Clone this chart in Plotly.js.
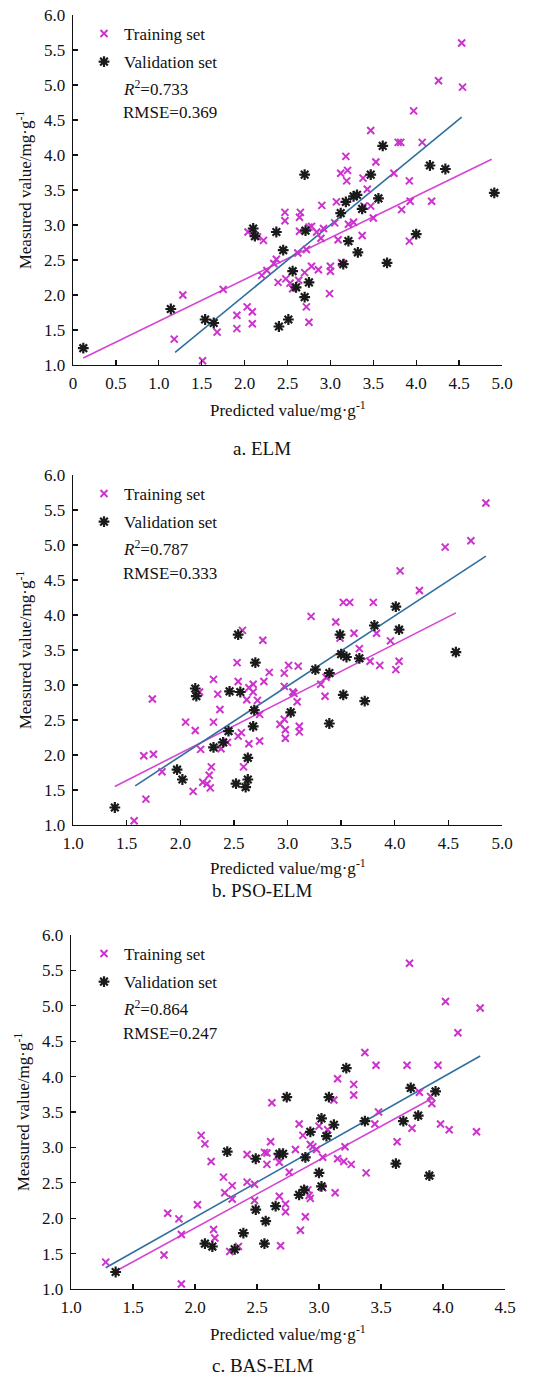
<!DOCTYPE html>
<html>
<head>
<meta charset="utf-8">
<script src="https://cdn.plot.ly/plotly-3.0.1.min.js"></script>
<style>html,body{margin:0;padding:0;background:#fff;}#chart{width:543px;height:1376px;}</style>
</head>
<body>
<div id="chart"></div>
<script>
// ---------- Panel a: ELM ----------
const elmTrainX = [1.28,1.18,1.75,1.68,1.91,1.91,2.03,2.09,2.09,1.51,2.04,2.15,2.22,2.26,2.20,2.34,2.37,2.39,2.47,2.47,2.48,2.53,2.56,2.65,2.64,2.64,2.62,2.63,2.70,2.72,2.72,2.75,2.75,2.78,2.84,2.86,2.78,2.90,2.89,2.92,3.00,3.00,2.99,3.05,3.09,3.13,3.21,3.27,3.37,3.39,3.47,3.50,3.83,3.92,3.93,4.18,3.07,
  4.53,4.26,4.54,3.97,3.47,3.79,3.82,4.07,3.18,3.53,3.12,3.20,3.19,3.38,3.74,3.92,3.43];
const elmTrainY = [2.00,1.37,2.08,1.47,1.71,1.52,1.83,1.76,1.59,1.06,2.90,2.83,2.78,2.35,2.28,2.45,2.51,2.18,3.18,3.06,2.23,2.17,2.09,3.18,3.11,2.91,2.60,2.21,2.32,2.65,1.83,1.61,2.97,2.98,2.90,2.36,2.41,3.28,2.81,2.95,2.41,2.34,2.02,3.03,2.79,2.46,3.01,3.04,2.85,3.27,3.27,3.10,3.22,2.77,3.34,3.34,3.33,
  5.60,5.06,4.97,4.63,4.35,4.18,4.18,4.18,3.98,3.90,3.74,3.78,3.63,3.67,3.74,3.63,3.51];
const elmValX = [0.12,1.14,1.54,1.64,2.10,2.12,2.37,2.45,2.56,2.60,2.75,2.70,2.40,2.51,2.71,3.15,3.21,3.32,3.66,4.00,3.12,3.18,3.27,3.31,3.37,3.56,3.47,2.70,3.61,4.16,4.34,4.91];
const elmValY = [1.24,1.80,1.65,1.60,2.95,2.84,2.90,2.64,2.34,2.11,2.18,1.97,1.55,1.65,2.92,2.44,2.77,2.61,2.46,2.87,3.17,3.33,3.41,3.43,3.23,3.38,3.72,3.72,4.13,3.85,3.80,3.46];
const elmTrainFitX = [0.12,4.88];
const elmTrainFitY = [1.10,3.94];
const elmValFitX = [1.19,4.53];
const elmValFitY = [1.18,4.54];

// ---------- Panel b: PSO-ELM ----------
const psoTrainX = [1.57,1.68,1.66,1.75,1.74,1.83,2.05,2.12,2.14,2.18,2.19,2.21,2.25,2.27,2.28,2.29,2.31,2.31,2.35,2.37,2.38,2.44,2.53,2.54,2.54,2.57,2.64,2.62,2.64,2.59,2.68,2.68,2.72,2.74,2.74,2.78,2.83,2.93,2.97,2.97,2.97,2.98,2.98,3.01,3.05,3.06,3.09,3.10,3.11,3.11,3.31,3.35,3.36,3.77,3.86,4.01,4.04,
  4.85,4.71,4.47,4.05,4.23,3.52,3.58,3.80,3.22,3.45,2.58,2.77,3.49,3.62,3.83,3.96,3.67];
const psoTrainY = [1.06,1.37,1.99,2.01,2.80,1.76,2.47,1.48,2.35,2.90,2.08,1.61,1.59,1.71,1.53,1.83,3.08,2.47,2.87,2.65,2.09,2.18,3.32,3.05,2.27,2.32,2.96,2.79,2.16,1.83,3.01,2.90,2.78,2.58,2.20,3.05,3.18,2.44,3.17,2.98,2.51,2.36,2.24,3.28,2.90,2.88,2.76,3.27,2.41,2.33,3.01,2.84,3.11,3.34,3.28,3.22,3.34,
  5.60,5.06,4.97,4.63,4.35,4.18,4.18,4.18,3.98,3.90,3.78,3.64,3.67,3.74,3.74,3.63,3.52];
const psoValX = [1.39,1.97,2.02,2.14,2.15,2.31,2.40,2.45,2.46,2.56,2.52,2.61,2.63,2.63,2.69,2.68,2.70,3.03,3.26,3.39,3.39,3.52,3.72,2.54,3.49,4.01,3.81,4.04,4.57,3.50,3.55,3.67];
const psoValY = [1.25,1.79,1.65,2.95,2.84,2.11,2.18,2.34,2.91,2.90,1.59,1.54,1.65,1.96,2.64,2.41,3.32,2.61,3.22,3.17,2.45,2.86,2.77,3.72,3.72,4.12,3.85,3.79,3.47,3.44,3.40,3.38];
const psoTrainFitX = [1.39,4.57];
const psoTrainFitY = [1.55,4.03];
const psoValFitX = [1.58,4.85];
const psoValFitY = [1.56,4.84];

// ---------- Panel c: BAS-ELM ----------
const basTrainX = [1.28,1.75,1.78,1.87,1.89,1.89,2.02,2.05,2.08,2.13,2.15,2.16,2.23,2.24,2.30,2.30,2.28,2.35,2.42,2.42,2.48,2.48,2.56,2.58,2.58,2.61,2.66,2.68,2.68,2.69,2.73,2.73,2.76,2.81,2.84,2.87,2.85,2.89,2.93,2.95,2.98,2.91,2.92,2.93,3.00,3.07,3.03,3.03,3.13,3.15,3.20,3.21,3.26,3.38,3.45,3.63,3.75,3.98,4.05,4.27,
  3.73,4.02,4.30,4.12,3.37,3.46,3.71,3.96,3.15,3.28,3.28,2.62,3.12,3.81,3.90,3.91,3.48];
const basTrainY = [1.38,1.48,2.07,1.99,1.77,1.07,2.19,3.17,3.05,2.80,1.84,1.72,2.58,2.36,2.46,2.27,1.53,1.60,2.90,2.51,2.25,2.48,2.93,2.92,2.76,3.08,2.87,2.79,2.31,1.61,2.20,2.09,2.65,2.97,3.33,3.17,1.83,2.02,3.04,3.01,2.97,2.40,2.32,2.28,3.30,3.25,2.86,2.43,2.36,2.84,2.80,3.01,2.76,2.64,3.33,3.08,3.27,3.33,3.25,3.22,
  5.60,5.06,4.97,4.62,4.34,4.16,4.16,4.16,3.97,3.89,3.74,3.63,3.67,3.78,3.72,3.62,3.50];
const basValX = [1.36,2.08,2.14,2.32,2.39,2.26,2.49,2.49,2.57,2.56,2.65,2.68,2.71,2.84,2.88,2.89,2.93,3.00,3.02,3.06,3.12,3.37,3.62,3.68,3.89,2.74,3.08,3.22,3.02,3.74,3.94,3.80];
const basValY = [1.24,1.64,1.60,1.56,1.79,2.94,2.84,2.12,1.96,1.64,2.17,2.91,2.91,2.33,2.40,2.86,3.22,2.64,2.45,3.16,3.32,3.37,2.77,3.37,2.60,3.71,3.71,4.12,3.41,3.84,3.79,3.45];
const basTrainFitX = [1.36,3.91];
const basTrainFitY = [1.25,3.69];
const basValFitX = [1.28,4.30];
const basValFitY = [1.30,4.29];

const r2Labels = ['0.733','0.787','0.864'];
const rmseLabels = ['0.369','0.333','0.247'];
const captions = ['a. ELM','b. PSO-ELM','c. BAS-ELM'];
const xRanges = [[0,5],[1,5],[1,4.5]];
const xTicks = [[0,0.5,1,1.5,2,2.5,3,3.5,4,4.5,5],[1,1.5,2,2.5,3,3.5,4,4.5,5],[1,1.5,2,2.5,3,3.5,4,4.5]];
const xTickText = [['0','0.5','1.0','1.5','2.0','2.5','3.0','3.5','4.0','4.5','5.0'],['1.0','1.5','2.0','2.5','3.0','3.5','4.0','4.5','5.0'],['1.0','1.5','2.0','2.5','3.0','3.5','4.0','4.5']];
const yTicks = [1,1.5,2,2.5,3,3.5,4,4.5,5,5.5,6];

// ---------- layout geometry (pixels) ----------
const W = 543, H = 1376;
const FONT = 'Liberation Serif, Times New Roman, serif';
const MAG = '#cc33cc', MAGLINE = '#d445d4', BLUE = '#2e6f9e', BLK = '#1a1a1a';
const panels = [
  {left:73, right:502, top:15, bottom:365, xt:409, cap:448},
  {left:73, right:502, top:475, bottom:825, xt:867, cap:890},
  {left:71, right:505, top:935, bottom:1289, xt:1333, cap:1365}
];
const data = [
  [elmTrainX, elmTrainY, elmValX, elmValY, elmTrainFitX, elmTrainFitY, elmValFitX, elmValFitY],
  [psoTrainX, psoTrainY, psoValX, psoValY, psoTrainFitX, psoTrainFitY, psoValFitX, psoValFitY],
  [basTrainX, basTrainY, basValX, basValY, basTrainFitX, basTrainFitY, basValFitX, basValFitY]
];

const traces = [];
const layout = {
  width: W, height: H,
  margin: {l:0, r:0, t:0, b:0},
  paper_bgcolor: '#fff', plot_bgcolor: '#fff',
  font: {family: FONT, size: 17, color: '#111'},
  showlegend: true,
  annotations: []
};

panels.forEach((p, i) => {
  const sfx = i === 0 ? '' : String(i + 1);
  const xa = 'x' + sfx, ya = 'y' + sfx;
  const lg = 'legend' + sfx;
  const d = data[i];
  traces.push({x: d[4], y: d[5], xaxis: xa, yaxis: ya, mode: 'lines', line: {color: MAGLINE, width: 1.6}, showlegend: false, hoverinfo: 'skip'});
  traces.push({x: d[6], y: d[7], xaxis: xa, yaxis: ya, mode: 'lines', line: {color: BLUE, width: 1.6}, showlegend: false, hoverinfo: 'skip'});
  traces.push({x: d[0], y: d[1], xaxis: xa, yaxis: ya, mode: 'markers', name: 'Training set', legend: lg, legendgroup: 't' + i,
    marker: {symbol: 'x-thin', size: 7, color: MAG, line: {color: MAG, width: 2}}});
  traces.push({x: d[2], y: d[3], xaxis: xa, yaxis: ya, mode: 'markers', name: 'Validation set', legend: lg, legendgroup: 'v' + i,
    marker: {symbol: 'asterisk', size: 9, color: BLK, line: {color: BLK, width: 2.2}}});

  const common = {
    showline: true, linecolor: '#111', linewidth: 1.3, mirror: false,
    ticks: 'inside', ticklen: 5, tickwidth: 1.3, tickcolor: '#111',
    showgrid: false, zeroline: false, automargin: false, fixedrange: true,
    tickfont: {family: FONT, size: 17, color: '#111'}
  };
  layout['xaxis' + sfx] = Object.assign({}, common, {
    domain: [p.left / W, p.right / W], anchor: ya, range: xRanges[i],
    tickmode: 'array', tickvals: xTicks[i], ticktext: xTickText[i], ticklabelstandoff: 2
  });
  layout['yaxis' + sfx] = Object.assign({}, common, {
    domain: [1 - p.bottom / H, 1 - p.top / H], anchor: xa, range: [1, 6],
    tickmode: 'array', tickvals: yTicks, ticktext: yTicks.map(v => v.toFixed(1)), ticklabelstandoff: 3,
    title: {text: 'Measured value/mg·g<sup>-1</sup>', font: {family: FONT, size: 17, color: '#111'}, standoff: 8}
  });
  layout[lg] = {
    x: 84 / W, y: 1 - (p.top + 1) / H, xanchor: 'left', yanchor: 'top',
    bgcolor: 'rgba(0,0,0,0)', borderwidth: 0, font: {family: FONT, size: 17, color: '#111'},
    itemwidth: 30, tracegroupgap: 3, traceorder: 'grouped'
  };
  // x-axis title and caption
  layout.annotations.push({xref: 'paper', yref: 'paper', x: (p.left + p.right) / 2 / W, y: 1 - p.xt / H,
    xanchor: 'center', yanchor: 'middle', showarrow: false, text: 'Predicted value/mg·g<sup>-1</sup>',
    font: {family: FONT, size: 17, color: '#111'}});
  layout.annotations.push({xref: 'paper', yref: 'paper', x: 262 / W, y: 1 - p.cap / H,
    xanchor: 'center', yanchor: 'middle', showarrow: false, text: captions[i],
    font: {family: FONT, size: 19, color: '#111'}});
  layout.annotations.push({xref: 'paper', yref: 'paper', x: 121 / W, y: 1 - (p.top + 73) / H,
    xanchor: 'left', yanchor: 'middle', showarrow: false, text: '<i>R</i><sup>2</sup>=' + r2Labels[i],
    font: {family: FONT, size: 17, color: '#111'}});
  layout.annotations.push({xref: 'paper', yref: 'paper', x: 121 / W, y: 1 - (p.top + 98) / H,
    xanchor: 'left', yanchor: 'middle', showarrow: false, text: 'RMSE=' + rmseLabels[i],
    font: {family: FONT, size: 17, color: '#111'}});
});

Plotly.newPlot('chart', traces, layout, {staticPlot: true, displayModeBar: false});
</script>
</body>
</html>
